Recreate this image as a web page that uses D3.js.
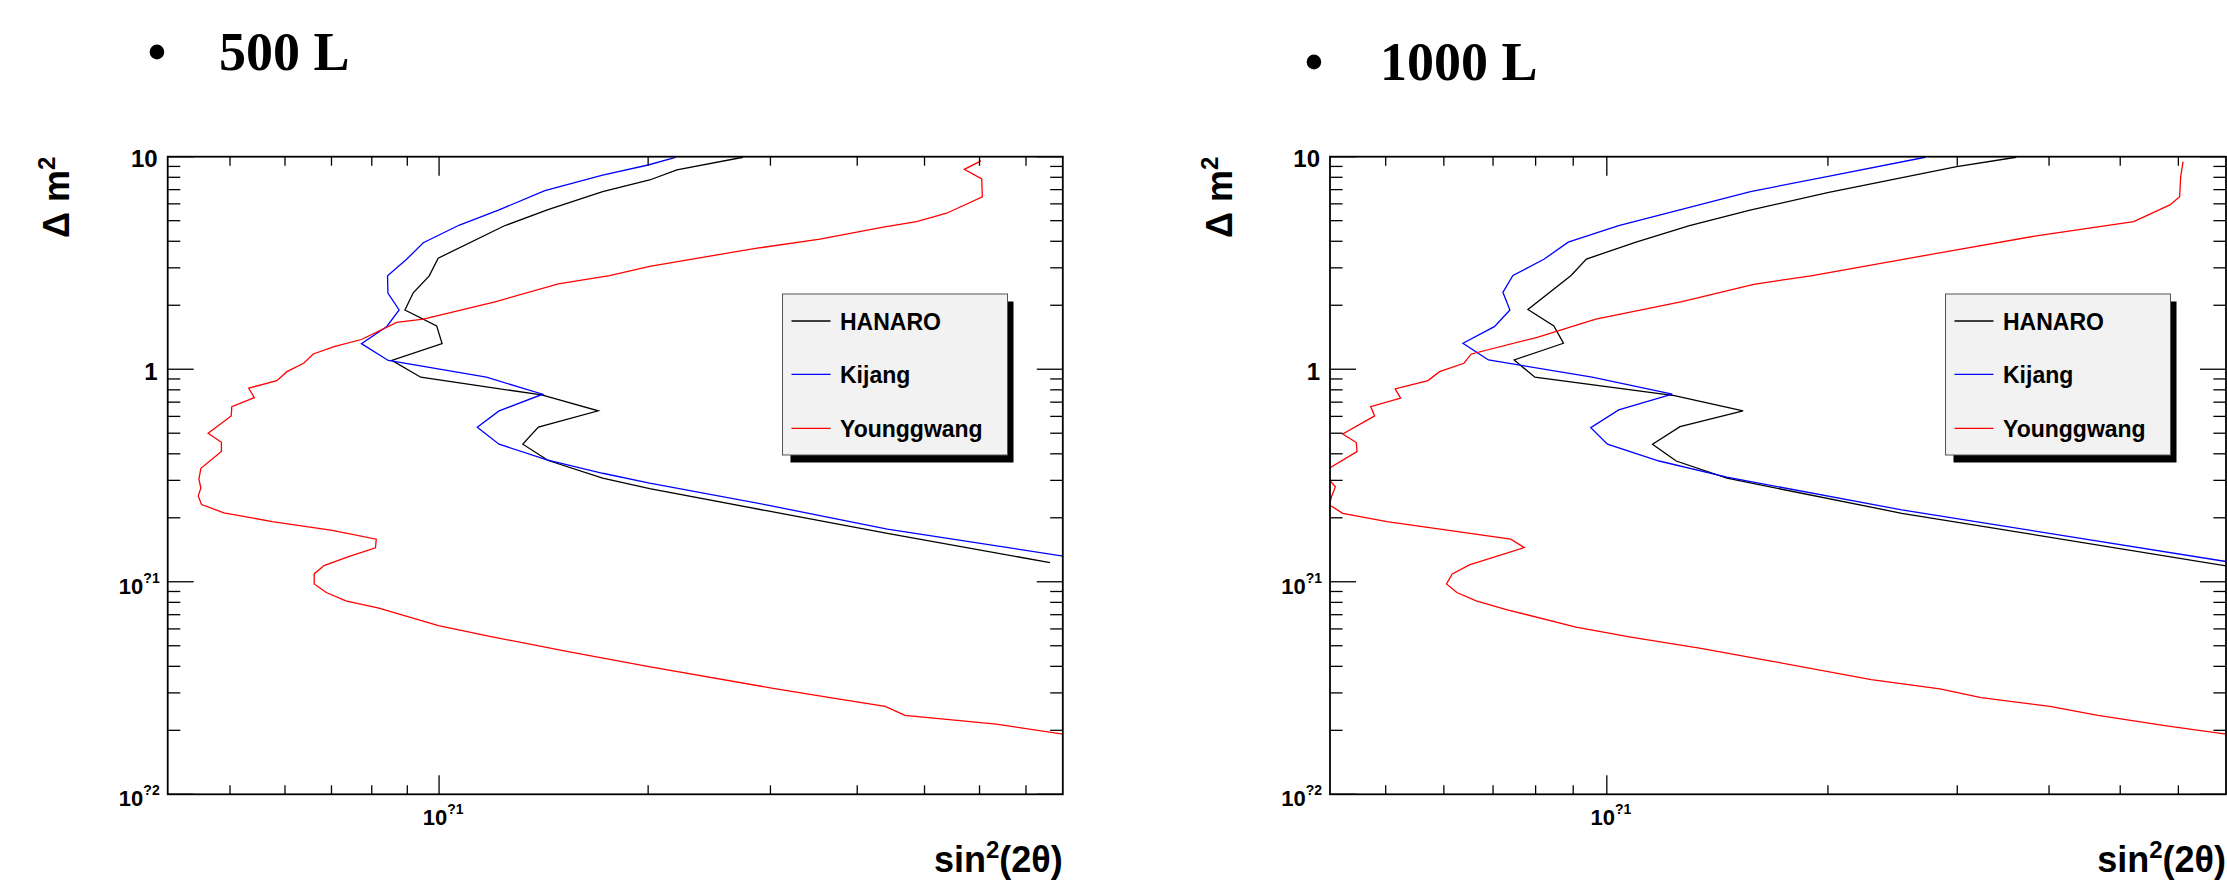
<!DOCTYPE html>
<html><head><meta charset="utf-8">
<script src="https://cdn.jsdelivr.net/npm/d3@7"></script>
<style>body{margin:0;background:#fff;} svg{display:block;}</style>
</head><body>
<svg id="c" width="2227" height="888"></svg>
<script>
// ---------------- data ----------------
const seriesNames = ["HANARO", "Kijang", "Younggwang"];
const seriesColors = ["#000000", "#0000ff", "#ff0000"];
const panelTitles = ["500 L", "1000 L"];
const yAxisTitle = "\u0394 m";
const xAxisTitle = "sin";

// [sin^2(2theta), delta m^2]
const hanaro500 = [[0.274,9.94],[0.220,8.66],[0.201,7.77],[0.172,6.85],[0.1435,5.63],[0.124,4.72],[0.0997,3.33],[0.0968,2.75],[0.0918,2.29],[0.0893,1.90],[0.0992,1.60],[0.101,1.32],[0.0855,1.10],[0.0941,0.917],[0.1405,0.757],[0.1695,0.637],[0.139,0.534],[0.132,0.444],[0.1436,0.372],[0.172,0.307],[0.201,0.274],[0.296,0.216],[0.442,0.169],[0.758,0.123]];
const kijang500 = [[0.219,9.94],[0.200,9.14],[0.172,8.20],[0.142,6.93],[0.122,5.62],[0.107,4.77],[0.0949,3.94],[0.0898,3.29],[0.0843,2.75],[0.0844,2.28],[0.0876,1.90],[0.0841,1.59],[0.0773,1.32],[0.0845,1.10],[0.117,0.917],[0.141,0.763],[0.122,0.637],[0.1135,0.534],[0.122,0.444],[0.143,0.375],[0.172,0.324],[0.201,0.291],[0.296,0.230],[0.442,0.177],[0.792,0.132]];
const younggwang500 = [[0.603,9.55],[0.5705,8.72],[0.6045,7.86],[0.6056,6.48],[0.538,5.42],[0.487,4.95],[0.436,4.66],[0.3535,4.09],[0.287,3.71],[0.243,3.39],[0.201,3.05],[0.176,2.76],[0.1485,2.52],[0.120,2.07],[0.0949,1.72],[0.0869,1.66],[0.0773,1.38],[0.0708,1.28],[0.0659,1.18],[0.0639,1.07],[0.0604,0.974],[0.0584,0.884],[0.0532,0.814],[0.0542,0.735],[0.0503,0.667],[0.0502,0.603],[0.0465,0.500],[0.0486,0.4535],[0.0486,0.410],[0.0454,0.342],[0.0451,0.304],[0.0454,0.276],[0.0450,0.2535],[0.0455,0.231],[0.0490,0.211],[0.0575,0.192],[0.0702,0.1745],[0.0812,0.1586],[0.0810,0.1444],[0.0739,0.131],[0.0683,0.1192],[0.0661,0.1089],[0.0661,0.0977],[0.0688,0.089],[0.0734,0.0813],[0.0819,0.0751],[0.0998,0.0622],[0.1188,0.0552],[0.1534,0.0469],[0.2005,0.0399],[0.3012,0.0316],[0.3713,0.0283],[0.4389,0.0259],[0.4686,0.0235],[0.6339,0.0214],[0.792,0.0192]];

const hanaro1000 = [[0.361,9.94],[0.2995,8.97],[0.1998,6.77],[0.1567,5.61],[0.1296,4.74],[0.1096,3.96],[0.0938,3.30],[0.0894,2.76],[0.0781,1.91],[0.0847,1.60],[0.0873,1.325],[0.0748,1.106],[0.0798,0.917],[0.1236,0.751],[0.1533,0.637],[0.1258,0.537],[0.1154,0.444],[0.1243,0.370],[0.1457,0.307],[0.2521,0.210],[0.697,0.1188]];
const kijang1000 = [[0.2714,9.94],[0.2010,8.11],[0.1569,6.85],[0.1038,4.74],[0.0886,3.96],[0.0822,3.30],[0.0745,2.76],[0.0722,2.30],[0.0738,1.90],[0.0703,1.586],[0.0637,1.325],[0.0690,1.106],[0.0955,0.917],[0.1228,0.763],[0.1038,0.644],[0.0951,0.531],[0.1002,0.444],[0.1178,0.370],[0.1457,0.3105],[0.2521,0.218],[0.697,0.1245]];
const younggwang1000 = [[0.6089,9.47],[0.6043,8.05],[0.6024,6.48],[0.5843,5.93],[0.5216,4.95],[0.3842,4.24],[0.2657,3.39],[0.1896,2.75],[0.1585,2.51],[0.1266,2.08],[0.0966,1.72],[0.0802,1.41],[0.0654,1.18],[0.0639,1.067],[0.0592,0.974],[0.0571,0.884],[0.0515,0.808],[0.0524,0.731],[0.0477,0.667],[0.0483,0.603],[0.0437,0.496],[0.0456,0.452],[0.0457,0.410],[0.0419,0.342],[0.0419,0.3015],[0.0427,0.280],[0.0422,0.252],[0.0419,0.230],[0.0437,0.210],[0.0502,0.192],[0.0740,0.1586],[0.0772,0.1448],[0.0650,0.1201],[0.0616,0.1089],[0.0605,0.0977],[0.0625,0.089],[0.0664,0.0813],[0.0732,0.0738],[0.0908,0.0612],[0.1078,0.0549],[0.1337,0.0487],[0.1659,0.0426],[0.2291,0.0346],[0.2841,0.0313],[0.3233,0.0285],[0.4011,0.0259],[0.4663,0.0235],[0.5783,0.0210],[0.697,0.0192]];

const xDomain500 = [0.04067, 0.7908];
const xDomain1000 = [0.04199, 0.6966];
const yDomain = [0.01, 10];

// tick labels: value, base text, superscript text
const yTickLabels = [[10, "10", ""], [1, "1", ""], [0.1, "10", "?1"], [0.01, "10", "?2"]];
const xTickLabels = [[0.1, "10", "?1"]];

// ---------------- layout ----------------
const svg = d3.select("#c");
const SANS = "'Liberation Sans', Arial, Helvetica, sans-serif";
const SERIF = "'Liberation Serif', 'Times New Roman', serif";
const frameTop = 156.7, frameBottom = 794.3;

const panels = [
  { id: "p500", left: 167.7, right: 1062.8, domain: xDomain500,
    series: [hanaro500, kijang500, younggwang500], title: panelTitles[0],
    bulletX: 157, titleX: 219, titleY: 70, yTitleX: 69,
    legend: { x: 782.5, y: 294, w: 225, h: 161 } },
  { id: "p1000", left: 1330, right: 2226, domain: xDomain1000,
    series: [hanaro1000, kijang1000, younggwang1000], title: panelTitles[1],
    bulletX: 1314, titleX: 1380, titleY: 80, yTitleX: 1232,
    legend: { x: 1945.5, y: 294, w: 225, h: 161 } }
];

const yScale = d3.scaleLog().domain(yDomain).range([frameBottom, frameTop]);

function supLabel(g, x, yy, anchor, base, sup, size, supSize, supDy) {
  const t = g.append("text").attr("x", x).attr("y", yy).attr("text-anchor", anchor)
    .attr("font-family", SANS).attr("font-weight", "bold").attr("font-size", size).attr("fill", "#000");
  t.append("tspan").text(base);
  if (sup) t.append("tspan").attr("dy", supDy).attr("font-size", supSize).text(sup);
  return t;
}

panels.forEach(p => {
  const xScale = d3.scaleLog().domain(p.domain).range([p.left, p.right]);
  const g = svg.append("g");

  // title
  g.append("text").attr("x", p.bulletX).attr("y", p.titleY).attr("text-anchor", "middle")
    .attr("font-family", SERIF).attr("font-weight", "bold").attr("font-size", 54).text("\u2022");
  g.append("text").attr("x", p.titleX).attr("y", p.titleY)
    .attr("font-family", SERIF).attr("font-weight", "bold").attr("font-size", 54).text(p.title);

  // clip
  svg.append("clipPath").attr("id", "clip-" + p.id).append("rect")
    .attr("x", p.left).attr("y", frameTop).attr("width", p.right - p.left).attr("height", frameBottom - frameTop);

  // curves
  const line = d3.line().x(d => xScale(d[0])).y(d => yScale(d[1]));
  const cg = g.append("g").attr("clip-path", "url(#clip-" + p.id + ")");
  p.series.forEach((s, i) => {
    cg.append("path").datum(s).attr("d", line).attr("fill", "none")
      .attr("stroke", seriesColors[i]).attr("stroke-width", 1.3).attr("stroke-linejoin", "miter");
  });

  // x ticks (bottom upward, top downward)
  xScale.ticks().forEach(v => {
    const major = Math.abs(Math.log10(v) - Math.round(Math.log10(v))) < 1e-9;
    const len = major ? 19 : 9;
    const px = xScale(v);
    g.append("line").attr("x1", px).attr("x2", px).attr("y1", frameBottom).attr("y2", frameBottom - len)
      .attr("stroke", "#000").attr("stroke-width", 1.3);
    g.append("line").attr("x1", px).attr("x2", px).attr("y1", frameTop).attr("y2", frameTop + len)
      .attr("stroke", "#000").attr("stroke-width", 1.3);
  });
  // y ticks (left rightward, right leftward)
  yScale.ticks().forEach(v => {
    const major = Math.abs(Math.log10(v) - Math.round(Math.log10(v))) < 1e-9;
    const len = major ? 26 : 12.6;
    const py = yScale(v);
    g.append("line").attr("x1", p.left).attr("x2", p.left + len).attr("y1", py).attr("y2", py)
      .attr("stroke", "#000").attr("stroke-width", 1.3);
    g.append("line").attr("x1", p.right).attr("x2", p.right - len).attr("y1", py).attr("y2", py)
      .attr("stroke", "#000").attr("stroke-width", 1.3);
  });

  // frame
  g.append("rect").attr("x", p.left).attr("y", frameTop).attr("width", p.right - p.left)
    .attr("height", frameBottom - frameTop).attr("fill", "none").attr("stroke", "#000").attr("stroke-width", 1.8);

  // y tick labels
  yTickLabels.forEach(([v, base, sup]) => {
    if (sup) supLabel(g, p.left - 8, yScale(v) + 12, "end", base, sup, 22, 14, -11);
    else supLabel(g, p.left - 10, yScale(v) + 10.5, "end", base, "", 24);
  });
  // x tick labels
  xTickLabels.forEach(([v, base, sup]) => {
    supLabel(g, xScale(v) + 4, 825, "middle", base, sup, 22, 14, -11);
  });

  // axis titles
  const yt2 = g.append("text").attr("transform", `translate(${p.yTitleX},${frameTop}) rotate(-90)`)
    .attr("text-anchor", "end").attr("font-family", SANS).attr("font-weight", "bold").attr("font-size", 36);
  yt2.append("tspan").text(yAxisTitle);
  yt2.append("tspan").attr("dy", -14).attr("font-size", 24).text("2");

  const xt2 = g.append("text").attr("x", p.right).attr("y", 872).attr("text-anchor", "end")
    .attr("font-family", SANS).attr("font-weight", "bold").attr("font-size", 36);
  xt2.append("tspan").text(xAxisTitle);
  xt2.append("tspan").attr("dy", -14).attr("font-size", 24).text("2");
  xt2.append("tspan").attr("dy", 14).text("(2\u03b8)");

  // legend
  const L = p.legend;
  g.append("rect").attr("x", L.x + 8).attr("y", L.y + 7.5).attr("width", L.w - 2).attr("height", L.h)
    .attr("fill", "#000");
  g.append("rect").attr("x", L.x).attr("y", L.y).attr("width", L.w).attr("height", L.h)
    .attr("fill", "#f2f2f2").attr("stroke", "#555").attr("stroke-width", 1);
  const rowY = [27, 80.3, 134.3];
  seriesNames.forEach((n, i) => {
    const ly = L.y + rowY[i];
    g.append("line").attr("x1", L.x + 9).attr("x2", L.x + 48).attr("y1", ly).attr("y2", ly)
      .attr("stroke", seriesColors[i]).attr("stroke-width", 1.3);
    g.append("text").attr("x", L.x + 57.5).attr("y", ly + 8.5)
      .attr("font-family", SANS).attr("font-weight", "bold").attr("font-size", 23).text(n);
  });
});
</script>
</body></html>
